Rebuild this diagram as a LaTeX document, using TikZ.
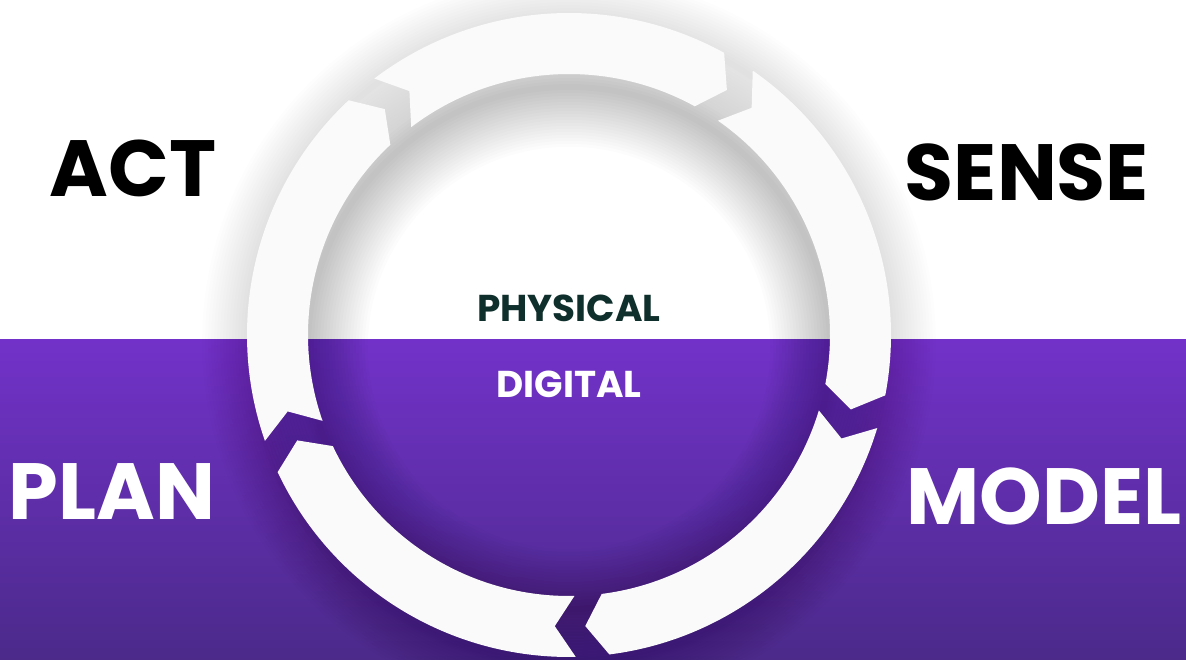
\documentclass[tikz,border=0pt]{standalone}
\usepackage{fontspec}
\setmainfont{Poppins}
\definecolor{purpTop}{HTML}{7232C9}
\definecolor{purpBot}{HTML}{4B2A8A}
\definecolor{segcol}{HTML}{FAFAFA}
\definecolor{darkgreen}{HTML}{0F2F2C}
\tikzset{
  seg/.style={fill=segcol},
  bigword/.style={inner sep=0pt, font=\bfseries\fontsize{80}{80}\selectfont},
  midword/.style={inner sep=0pt, font=\bfseries\fontsize{37.5}{37.5}\selectfont},
}
\begin{document}
\begin{tikzpicture}[x=1bp,y=1bp]
\useasboundingbox (0,0) rectangle (1186,660);
\fill[white] (0,0) rectangle (1186,660);
\shade[top color=purpTop, bottom color=purpBot] (0,0) rectangle (1186,320);
\coordinate (c) at (569,325);
% soft shadows
\begin{scope}[shift={(569,312)}]
  \foreach \w in {6,12,...,120} \draw[black, opacity=0.013, line width=\w] (0,0) circle (261);
\end{scope}
\begin{scope}[shift={(569,318)}]
  \foreach \w in {6,12,...,90} \draw[black, opacity=0.009, line width=\w] (0,0) circle (322);
\end{scope}
% ring segments
\begin{scope}[shift={(c)}]
  \foreach \i in {0,...,4} {
    \pgfmathsetmacro\s{127.2-72*\i}
    \pgfmathsetmacro\e{\s-66}
    \fill[seg] (\s:322) arc[start angle=\s, end angle=\e, radius=322]
      -- ({\e-4}:291.5) -- (\e:261)
      arc[start angle=\e, end angle=\s, radius=261]
      -- ({\s-4}:291.5) -- cycle;
  }
\end{scope}
% labels
\node[bigword, text=black] (act) at (133,492) {ACT};
\node[bigword, text=black] (sense) at (1027,488) {SENSE};
\node[bigword, text=white] (plan) at (112,168) {PLAN};
\node[bigword, text=white] (model) at (1044,164) {MODEL};
\node[midword, text=darkgreen] (physical) at (569,352) {PHYSICAL};
\node[midword, text=white] (digital) at (569,276) {DIGITAL};
\end{tikzpicture}
\end{document}
